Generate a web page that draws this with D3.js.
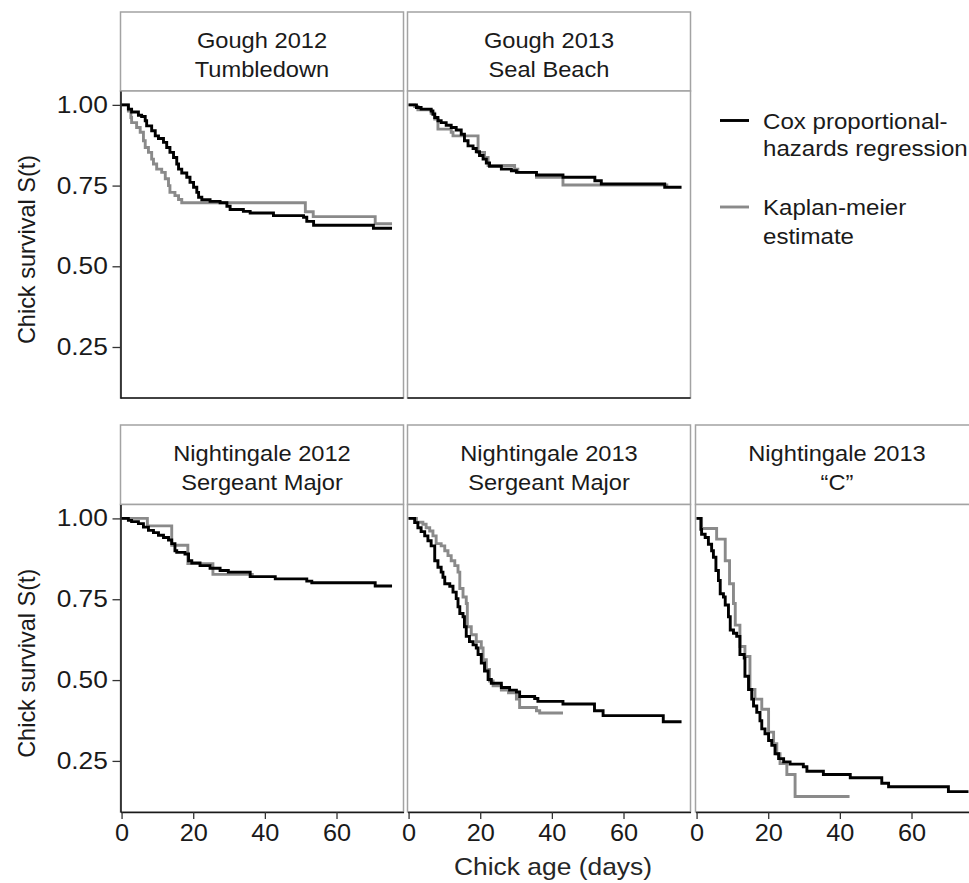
<!DOCTYPE html>
<html><head><meta charset="utf-8">
<script src="https://cdn.jsdelivr.net/npm/d3@7"></script>
<style>body{margin:0;background:#fff;overflow:hidden}</style>
</head><body>
<svg id="chart" width="969" height="883"></svg>
<script>
// ---------- data ----------
const stripTitles = [
  ["Gough 2012", "Tumbledown"],
  ["Gough 2013", "Seal Beach"],
  ["Nightingale 2012", "Sergeant Major"],
  ["Nightingale 2013", "Sergeant Major"],
  ["Nightingale 2013", "\u201CC\u201D"]
];
const xTicks = [0, 20, 40, 60];
const yTicks = [0.25, 0.50, 0.75, 1.00];
const yTickLabels = ["0.25", "0.50", "0.75", "1.00"];
const seriesNames = ["Cox proportional-|hazards regression", "Kaplan-meier|estimate"];
const xTitle = "Chick age (days)";
const yTitle = "Chick survival S(t)";

// [day, survival] step points (last point = end of curve)
const coxGough2012 = [[0,1],[1.9,0.987],[2.8,0.978],[4.7,0.968],[5.6,0.964],[6.6,0.951],[7.0,0.935],[8.4,0.920],[9.4,0.904],[10.3,0.896],[11.7,0.884],[12.6,0.868],[13.5,0.853],[14.5,0.837],[15.4,0.817],[15.9,0.801],[16.8,0.789],[18.2,0.776],[19.1,0.760],[20.1,0.745],[21.0,0.729],[21.5,0.714],[22.4,0.706],[24.7,0.701],[27.5,0.697],[29.4,0.686],[30.3,0.676],[34.0,0.670],[35.9,0.665],[42.4,0.657],[50.8,0.652],[51.7,0.639],[53.6,0.627],[70.3,0.618],[75.5,0.618]];
const kmGough2012 = [[0,1],[1.9,0.981],[2.6,0.961],[2.8,0.945],[4.2,0.930],[5.2,0.915],[6.1,0.889],[6.6,0.868],[7.5,0.853],[8.4,0.832],[8.9,0.817],[9.8,0.801],[11.2,0.791],[12.2,0.771],[13.1,0.750],[13.5,0.729],[14.9,0.719],[15.9,0.707],[16.8,0.697],[51.3,0.669],[53.5,0.654],[70.8,0.632],[75.5,0.632]];
const coxGough2013 = [[0,1],[2.2,0.992],[3.5,0.987],[6.3,0.981],[6.8,0.971],[7.3,0.961],[8.2,0.951],[9.1,0.945],[10.5,0.937],[11.9,0.930],[13.3,0.922],[14.7,0.909],[15.6,0.889],[16.6,0.873],[18.0,0.865],[18.9,0.855],[19.8,0.843],[20.8,0.832],[21.7,0.820],[22.6,0.810],[25.9,0.801],[28.7,0.796],[30.1,0.791],[35.7,0.783],[43.1,0.776],[52.0,0.765],[53.8,0.755],[71.5,0.745],[76.2,0.745]];
const kmGough2013 = [[0,1],[1.7,0.995],[2.6,0.985],[6.3,0.974],[7.3,0.956],[8.2,0.925],[11.9,0.915],[12.4,0.904],[19.4,0.853],[21.2,0.837],[22.2,0.812],[29.6,0.801],[30.5,0.791],[35.7,0.776],[43.1,0.752],[72.5,0.752]];
const coxNight2012 = [[0,1],[1.9,0.994],[2.8,0.990],[4.7,0.984],[6.1,0.973],[7.5,0.963],[8.9,0.956],[10.3,0.948],[11.7,0.941],[13.1,0.933],[14.0,0.922],[14.9,0.900],[15.4,0.895],[17.7,0.890],[18.7,0.869],[19.6,0.862],[21.9,0.854],[24.7,0.846],[27.5,0.839],[29.8,0.834],[35.9,0.820],[42.9,0.813],[51.7,0.806],[53.1,0.801],[70.8,0.791],[75.5,0.791]];
const kmNight2012 = [[0,1],[7.2,0.977],[14.0,0.917],[18.5,0.860],[25.5,0.827],[36.9,0.827]];
const coxNight2013SM = [[0,1],[1.7,0.987],[2.6,0.971],[3.5,0.959],[4.5,0.946],[5.4,0.931],[6.3,0.915],[7.3,0.869],[8.2,0.849],[9.1,0.834],[9.6,0.818],[10.1,0.798],[11.5,0.790],[12.4,0.772],[13.3,0.752],[13.8,0.727],[14.3,0.706],[15.2,0.696],[15.6,0.665],[16.1,0.635],[17.0,0.619],[18.0,0.609],[18.9,0.599],[19.4,0.579],[20.3,0.553],[21.2,0.528],[22.2,0.502],[23.1,0.490],[25.9,0.477],[28.2,0.469],[30.1,0.463],[31.0,0.449],[35.2,0.443],[36.1,0.434],[43.1,0.426],[51.9,0.405],[54.3,0.390],[71.1,0.371],[76.2,0.371]];
const kmNight2013SM = [[0,1],[2.2,0.988],[4.0,0.982],[4.9,0.971],[5.9,0.961],[6.8,0.946],[7.7,0.922],[9.1,0.915],[10.1,0.900],[11.0,0.885],[11.9,0.869],[12.9,0.854],[13.8,0.834],[14.3,0.783],[15.2,0.757],[16.1,0.737],[16.4,0.665],[17.5,0.640],[18.9,0.619],[20.3,0.599],[20.8,0.563],[21.7,0.533],[22.6,0.497],[23.6,0.482],[25.9,0.469],[27.9,0.461],[30.1,0.441],[31.0,0.415],[35.7,0.405],[36.6,0.398],[43.1,0.398]];
const coxNight2013C = [[0,1],[1.2,0.966],[1.4,0.951],[2.4,0.941],[3.3,0.920],[4.2,0.900],[4.7,0.880],[5.4,0.839],[6.1,0.808],[6.6,0.767],[7.5,0.757],[8.0,0.732],[8.9,0.696],[9.4,0.655],[10.3,0.645],[11.2,0.635],[12.1,0.579],[13.3,0.568],[13.5,0.512],[14.5,0.471],[15.4,0.441],[15.9,0.420],[16.8,0.400],[17.7,0.374],[18.2,0.349],[19.1,0.334],[20.1,0.313],[21.0,0.298],[21.9,0.272],[22.9,0.257],[24.3,0.247],[26.1,0.240],[29.8,0.232],[30.8,0.218],[35.4,0.208],[42.9,0.198],[51.7,0.181],[53.6,0.170],[70.3,0.155],[75.9,0.155]];
const kmNight2013C = [[0,1],[1.4,0.969],[5.6,0.936],[8.0,0.869],[9.2,0.798],[10.3,0.737],[10.8,0.670],[12.1,0.604],[13.5,0.573],[14.9,0.471],[16.3,0.441],[18.2,0.410],[20.1,0.339],[21.5,0.303],[22.4,0.272],[23.3,0.242],[25.2,0.208],[27.5,0.140],[42.7,0.140]];

const coxSeries = [coxGough2012, coxGough2013, coxNight2012, coxNight2013SM, coxNight2013C];
const kmSeries  = [kmGough2012, kmGough2013, kmNight2012, kmNight2013SM, kmNight2013C];
const panelRow = [0, 0, 1, 1, 1];
const panelCol = [0, 1, 0, 1, 2];

// ---------- layout ----------
const colLeft = [120.5, 407.5, 695.5];
const panelW = 283;
const stripTop = [12, 425];
const plotTop = [91, 504.5];
const plotBottom = [398, 812];
const FONT = "'Liberation Sans', Arial, Helvetica, sans-serif";
const SX = 1.1;           // horizontal text stretch of the reference
const COX_COLOR = "#000000", KM_COLOR = "#8a8a8a", BORDER = "#a3a3a3";
const LW = 2.9;

const svg = d3.select("#chart");
svg.append("rect").attr("width", 969).attr("height", 883).attr("fill", "#fff");

function stext(parent, x, y, str, size, anchor, fill, sx) {
  const g = parent.append("g").attr("transform", `translate(${x},${y}) scale(${sx || SX},1)`);
  g.append("text").attr("x", 0).attr("y", 0)
    .attr("text-anchor", anchor).attr("font-family", FONT)
    .attr("font-size", size).attr("fill", fill).text(str);
  return g;
}

const yScales = [0, 1].map(r => d3.scaleLinear().domain([0.092, 1.043]).range([plotBottom[r], plotTop[r]]));

const defs = svg.append("defs");

stripTitles.forEach((title, i) => {
  const r = panelRow[i], c = panelCol[i];
  const left = colLeft[c];
  const x = d3.scaleLinear().domain([-0.3, 78.7]).range([left, left + panelW]);
  const y = yScales[r];
  const g = svg.append("g");

  // strip
  g.append("rect").attr("x", left).attr("y", stripTop[r])
    .attr("width", panelW).attr("height", plotTop[r] - stripTop[r])
    .attr("fill", "#fff").attr("stroke", BORDER).attr("stroke-width", 1.5);
  stext(g, left + panelW / 2, stripTop[r] + 35.5, title[0], 21.5, "middle", "#1a1a1a");
  stext(g, left + panelW / 2, stripTop[r] + 64.5, title[1], 21.5, "middle", "#1a1a1a");

  // panel
  g.append("rect").attr("x", left).attr("y", plotTop[r])
    .attr("width", panelW).attr("height", plotBottom[r] - plotTop[r])
    .attr("fill", "#fff").attr("stroke", BORDER).attr("stroke-width", 1.5);

  defs.append("clipPath").attr("id", "clip" + i).append("rect")
    .attr("x", left).attr("y", plotTop[r]).attr("width", panelW).attr("height", plotBottom[r] - plotTop[r]);

  const line = d3.line().x(d => x(d[0])).y(d => y(d[1])).curve(d3.curveStepAfter);
  const lg = g.append("g").attr("clip-path", `url(#clip${i})`);
  lg.append("path").datum(kmSeries[i]).attr("d", line)
    .attr("fill", "none").attr("stroke", KM_COLOR).attr("stroke-width", LW);
  lg.append("path").datum(coxSeries[i]).attr("d", line)
    .attr("fill", "none").attr("stroke", COX_COLOR).attr("stroke-width", LW);

  // bottom axis
  if (r === 1) {
    const ax = g.append("g").attr("transform", `translate(0,${plotBottom[r]})`)
      .call(d3.axisBottom(x).tickValues(xTicks).tickFormat(d3.format("d")).tickSize(7).tickSizeOuter(0).tickPadding(6));
    ax.select(".domain").attr("stroke", "#1a1a1a").attr("stroke-width", 1.6);
    ax.selectAll(".tick line").attr("stroke", "#333").attr("stroke-width", 1.3);
    ax.selectAll(".tick text").attr("font-family", FONT).attr("font-size", 23).attr("fill", "#1a1a1a")
      .attr("transform", `scale(${SX},1)`);
    ax.attr("font-family", null).attr("font-size", null);
  } else {
    g.append("line").attr("x1", left).attr("x2", left + panelW)
      .attr("y1", plotBottom[r]).attr("y2", plotBottom[r])
      .attr("stroke", "#1a1a1a").attr("stroke-width", 1.6);
  }
  // left axis
  if (c === 0) {
    const ay = g.append("g").attr("transform", `translate(${left},0)`)
      .call(d3.axisLeft(y).tickValues(yTicks).tickFormat((d, k) => yTickLabels[k]).tickSize(8).tickSizeOuter(0).tickPadding(3));
    ay.select(".domain").attr("stroke", "#1a1a1a").attr("stroke-width", 1.6);
    ay.selectAll(".tick line").attr("stroke", "#333").attr("stroke-width", 1.3);
    ay.selectAll(".tick text").attr("font-family", FONT).attr("font-size", 23.5).attr("fill", "#1a1a1a")
      .attr("x", -11.3).attr("transform", `scale(1.12,1)`);
    ay.attr("font-family", null).attr("font-size", null);
    // y title
    const ty = (plotTop[r] + plotBottom[r]) / 2 + 5;
    const tg = svg.append("g").attr("transform", `translate(${35},${ty}) scale(1.05,1) rotate(-90)`);
    tg.append("text").attr("text-anchor", "middle").attr("font-family", FONT)
      .attr("font-size", 23.5).attr("fill", "#1a1a1a").text(yTitle);
  }
});

// x title
stext(svg, 553, 875, xTitle, 24, "middle", "#262626");

// legend
const legend = svg.append("g");
const legendItems = [
  {color: COX_COLOR, lines: seriesNames[0].split("|"), y: 120.5, base: [129, 156]},
  {color: KM_COLOR, lines: seriesNames[1].split("|"), y: 207, base: [215, 244]}
];
legendItems.forEach(it => {
  legend.append("line").attr("x1", 720).attr("x2", 749).attr("y1", it.y).attr("y2", it.y)
    .attr("stroke", it.color).attr("stroke-width", LW);
  it.lines.forEach((t, k) => stext(legend, 763, it.base[k], t, 22.5, "start", "#1a1a1a", 1.07));
});
</script>
</body></html>
